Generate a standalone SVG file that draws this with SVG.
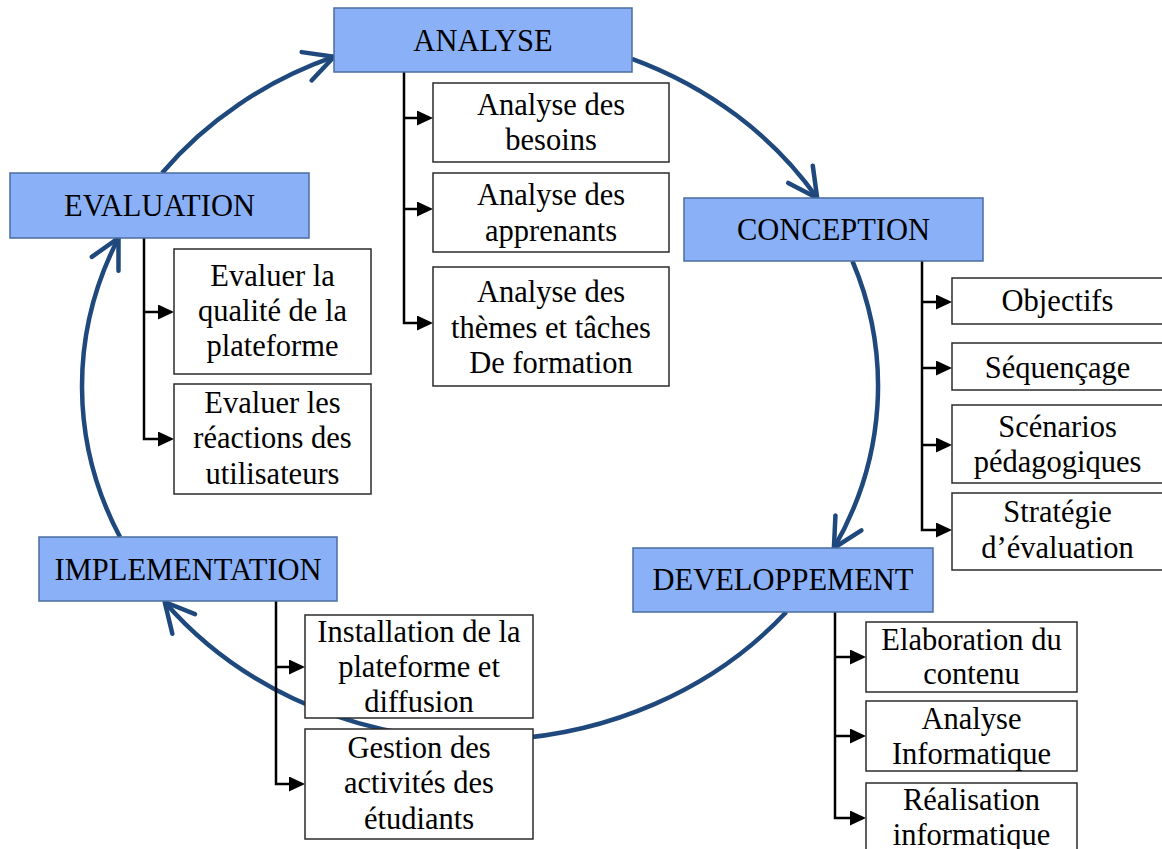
<svg xmlns="http://www.w3.org/2000/svg" width="1162" height="849" viewBox="0 0 1162 849">
<style>
.main rect{fill:#8AB0F7;stroke:#4A6C9E;stroke-width:1.5}
.sub rect{fill:#fff;stroke:#2b2b2b;stroke-width:1.5}
text{font-family:"Liberation Serif","Times New Roman",serif;font-size:30.5px;text-anchor:middle;fill:#000}
.arc{fill:none;stroke:#1F497D;stroke-width:4.5;marker-end:url(#open)}
.tree{fill:none;stroke:#000;stroke-width:2.5;marker-end:url(#tri)}
</style>
<defs>
<marker id="open" markerUnits="userSpaceOnUse" viewBox="-36 -20 42 40" refX="0" refY="0" markerWidth="42" markerHeight="40" orient="auto" overflow="visible">
<path d="M-29,-15 L0,0 L-29,15" fill="none" stroke="#1F497D" stroke-width="4.5" stroke-linecap="round" stroke-linejoin="round"/>
</marker>
<marker id="tri" markerUnits="userSpaceOnUse" viewBox="0 0 16 15" refX="8" refY="7.5" markerWidth="16" markerHeight="15" orient="auto">
<path d="M0,0 L16,7.5 L0,15 Z" fill="#000"/>
</marker>
</defs>
<g id="connectors">
<path class="arc" d="M632,58.8 A398,354 0 0 1 817.2,198"/>
<path class="arc" d="M852.4,261 A398,354 0 0 1 833.9,548"/>
<path class="arc" d="M786.3,612 A398,354 0 0 1 164.7,602"/>
<path class="arc" d="M120,537 A398,354 0 0 1 118.5,238"/>
<path class="arc" d="M162.1,173 A398,354 0 0 1 334,56.7"/>
<path class="tree" d="M404,72 V323 H425"/>
<path class="tree" d="M404,118 H425"/>
<path class="tree" d="M404,209 H425"/>
<path class="tree" d="M922,261 V530 H944"/>
<path class="tree" d="M922,302 H944"/>
<path class="tree" d="M922,368 H944"/>
<path class="tree" d="M922,445 H944"/>
<path class="tree" d="M835,612 V818 H858"/>
<path class="tree" d="M835,657 H858"/>
<path class="tree" d="M835,736 H858"/>
<path class="tree" d="M276,601 V784 H297"/>
<path class="tree" d="M276,667 H297"/>
<path class="tree" d="M144,238 V439 H166"/>
<path class="tree" d="M144,312 H166"/>
</g>
<g id="analyse" class="main"><rect x="334" y="8" width="298" height="64"/><text x="483" y="51">ANALYSE</text></g>
<g id="conception" class="main"><rect x="684" y="198" width="299" height="63"/><text x="833.5" y="240">CONCEPTION</text></g>
<g id="developpement" class="main"><rect x="633" y="548" width="300" height="64"/><text x="783" y="590">DEVELOPPEMENT</text></g>
<g id="implementation" class="main"><rect x="39" y="537" width="298" height="64"/><text x="188" y="580">IMPLEMENTATION</text></g>
<g id="evaluation" class="main"><rect x="10" y="173" width="299" height="65"/><text x="159.5" y="216">EVALUATION</text></g>

<g id="a1" class="sub"><rect x="433" y="83" width="236" height="79"/><text x="551" y="115">Analyse des</text><text x="551" y="150">besoins</text></g>
<g id="a2" class="sub"><rect x="433" y="173" width="236" height="79"/><text x="551" y="205">Analyse des</text><text x="551" y="241">apprenants</text></g>
<g id="a3" class="sub"><rect x="433" y="267" width="236" height="119"/><text x="551" y="302">Analyse des</text><text x="551" y="337.5">thèmes et tâches</text><text x="551" y="373">De formation</text></g>

<g id="c1" class="sub"><rect x="952" y="278" width="211" height="46"/><text x="1057.5" y="311">Objectifs</text></g>
<g id="c2" class="sub"><rect x="952" y="343" width="211" height="47"/><text x="1057.5" y="378">Séquençage</text></g>
<g id="c3" class="sub"><rect x="952" y="405" width="211" height="78"/><text x="1057.5" y="437">Scénarios</text><text x="1057.5" y="472">pédagogiques</text></g>
<g id="c4" class="sub"><rect x="952" y="493" width="211" height="77"/><text x="1057.5" y="522">Stratégie</text><text x="1057.5" y="558">d’évaluation</text></g>

<g id="d1" class="sub"><rect x="866" y="622" width="211" height="70"/><text x="971.5" y="650">Elaboration du</text><text x="971.5" y="684">contenu</text></g>
<g id="d2" class="sub"><rect x="866" y="701" width="211" height="70"/><text x="971.5" y="729">Analyse</text><text x="971.5" y="764">Informatique</text></g>
<g id="d3" class="sub"><rect x="866" y="783" width="211" height="80"/><text x="971.5" y="810">Réalisation</text><text x="971.5" y="845">informatique</text></g>

<g id="i1" class="sub"><rect x="305" y="615" width="228" height="103"/><text x="419" y="642">Installation de la</text><text x="419" y="677">plateforme et</text><text x="419" y="712">diffusion</text></g>
<g id="i2" class="sub"><rect x="305" y="729" width="228" height="110"/><text x="419" y="758">Gestion des</text><text x="419" y="793">activités des</text><text x="419" y="829">étudiants</text></g>

<g id="e1" class="sub"><rect x="174" y="249" width="197" height="125"/><text x="272.5" y="286">Evaluer la</text><text x="272.5" y="321">qualité de la</text><text x="272.5" y="356">plateforme</text></g>
<g id="e2" class="sub"><rect x="174" y="384" width="197" height="110"/><text x="272.5" y="413">Evaluer les</text><text x="272.5" y="448">réactions des</text><text x="272.5" y="484">utilisateurs</text></g>
</svg>
